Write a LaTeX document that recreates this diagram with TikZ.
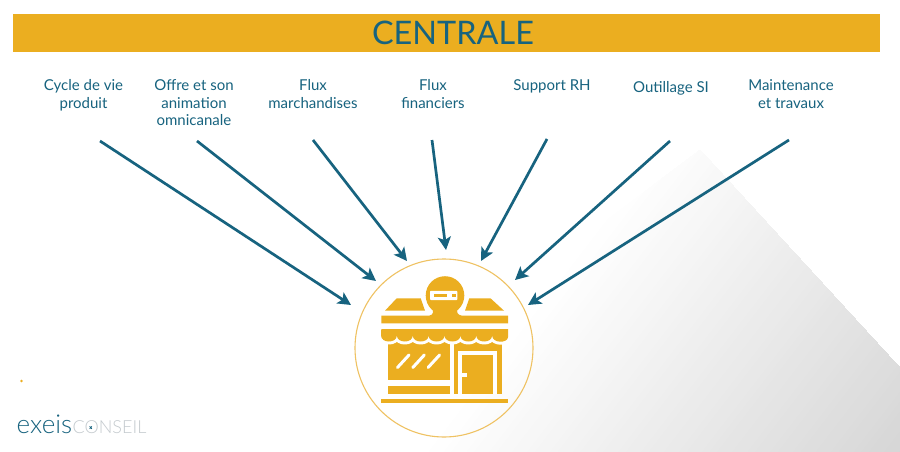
\documentclass[tikz,border=0pt]{standalone}
\usepackage{fontspec}
\setmainfont{Lato}
\newfontfamily\logolight{Lato Light}
\usetikzlibrary{arrows.meta}
\definecolor{gold}{HTML}{EBAE20}
\definecolor{teal1}{HTML}{17637F}
\definecolor{ringc}{HTML}{EFC263}
\definecolor{greyl}{HTML}{C4CACE}
\definecolor{wedge}{HTML}{D6D6D6}
\tikzset{
  x=1pt,y=-1pt,
  lab/.style={text=teal1,align=center,font=\fontsize{15}{17.6}\selectfont,inner sep=0pt,anchor=north},
  flow/.style={draw=teal1,line width=2.7pt,-{Stealth[length=13pt,width=13pt,inset=3pt]}},
}
\newcommand{\awningpath}{(381.3,329) -- (508,329) -- (508,337)
  \foreach \k [evaluate=\k as \a using 508-15.875*\k, evaluate=\k as \b using 508-15.875*(\k+1)] in {0,...,7} { .. controls (\a,343.5) and (\b,343.5) .. (\b,335.5) } -- (381.3,329) -- cycle}
\begin{document}
\begin{tikzpicture}
\useasboundingbox (0,0) rectangle (900,452);
\fill[white] (0,0) rectangle (900,452);
% background wedge: diagonal ramp painted in steps
\begin{scope}
\clip (700,150) -- (900,368) -- (900,452) -- (300,452) -- cycle;
\foreach \i [evaluate=\i as \T using 1000+9.87*\i, evaluate=\i as \P using \i*100/63] in {0,...,63}
  \fill[wedge!\P!white] ({\T/1.3},0) -- (1000,0) -- (1000,500) -- ({(\T-500)/1.3},500) -- cycle;
\end{scope}
% banner
\node[fill=gold,minimum width=867pt,minimum height=38pt,inner sep=0pt,anchor=north west] (banner) at (13,14) {};
\node[text=teal1,font=\fontsize{32.4}{32.4}\selectfont,inner sep=0pt] (title) at (453,33) {CENTRALE};
% labels
\node[lab] (l1) at (83.5,79.5) {Cycle de vie\\produit};
\node[lab] (l2) at (194,79.5) {Offre et son\\animation\\omnicanale};
\node[lab] (l3) at (313,79.5) {Flux\\marchandises};
\node[lab] (l4) at (433,79.5) {Flux\\financiers};
\node[lab] (l5) at (552,79.5) {Support RH};
\node[lab] (l6) at (671,81.5) {Outillage SI};
\node[lab] (l7) at (791,79.5) {Maintenance\\et travaux};
% connector ends
\coordinate (s1) at (100,141); \coordinate (e1) at (351,305);
\coordinate (s2) at (197,141); \coordinate (e2) at (376,281);
\coordinate (s3) at (313,140); \coordinate (e3) at (407,261);
\coordinate (s4) at (432,140); \coordinate (e4) at (446,250);
\coordinate (s5) at (547,139); \coordinate (e5) at (481,261);
\coordinate (s6) at (670,141); \coordinate (e6) at (515,280);
\coordinate (s7) at (789,140); \coordinate (e7) at (528,305);
\foreach \i in {1,...,7} \draw[flow] (s\i) -- (e\i);
% ring
\node[circle,draw=ringc,line width=1.1pt,minimum size=178pt,inner sep=0pt] (ring) at (444,348) {};
% shop: roof
\fill[gold] (385,310.7) -- (396.7,298.3) -- (420.7,298.3) -- (425,310.7) -- cycle;
\fill[gold] (465,310.7) -- (469.3,298.3) -- (490.5,298.3) -- (504,310.7) -- cycle;
% sign with neck
\fill[gold] (381.3,315.7) -- (429,315.7) .. controls (433.5,315) and (434,312) .. (432,306) -- (458,306) .. controls (456,312) and (457,315) .. (462,315.7) -- (508,315.7) -- (508,323.4) -- (381.3,323.4) -- cycle;
\fill[gold] (445,295.5) circle (19.3);
\fill[white,rounded corners=0.8pt] (430,290.8) rectangle (457.3,300);
\fill[gold] (434.3,294) rectangle (446.7,296.8);
\fill[gold] (452,294) rectangle (456,296.8);
% walls
\fill[gold] (388,335) rectangle (449.5,380);
\fill[gold] (388,385.5) rectangle (449.5,394);
\fill[gold] (454,335) rectangle (501.5,394);
\fill[white] (458.3,351) rectangle (496.8,394);
\fill[gold] (462.3,355) rectangle (492.7,394);
\fill[white] (462.3,372.5) rectangle (466.8,376.5);
% window glints
\foreach \x in {0,15.3,30.6}
  \draw[white,line width=3pt,line cap=round] (397.5+\x,367.5) -- (409+\x,355);
% awning with white gap below it
\draw[white,line width=6pt,line join=round] \awningpath;
\fill[gold] \awningpath;
% base
\fill[gold] (381.3,398.5) rectangle (508,402.7);
% logo
\fill[gold] (21.5,381) circle (1.3);
\node[inner sep=0pt,anchor=base west,text=teal1,font=\fontsize{26}{26}\logolight\selectfont] (lg1) at (16.5,433.5) {exeis};
\node[inner sep=0pt,anchor=base west,text=greyl,font=\fontsize{18}{18}\logolight\selectfont] (lg2) at (72.5,433.5) {CONSEIL};
\draw[teal1,line width=0.8pt] (89.6,426.4) -- (91.8,428.8) (89.6,428.8) -- (91.8,426.4);
\end{tikzpicture}
\end{document}
